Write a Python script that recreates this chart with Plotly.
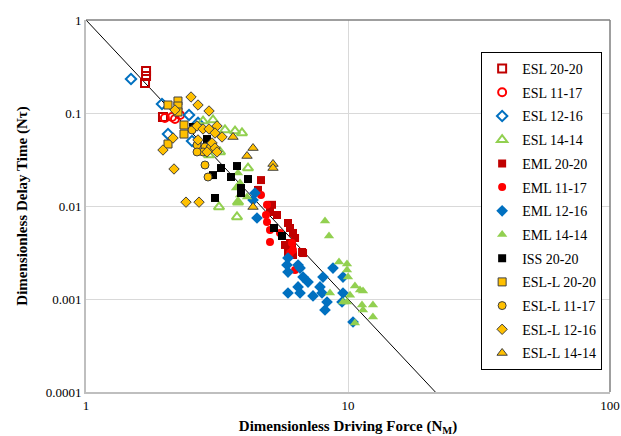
import plotly.graph_objects as go

# ---- data ----
esl_20_20_x = [1.695, 1.695, 1.68, 1.967]
esl_20_20_y = [0.283, 0.250, 0.210, 0.0906]

esl_11_17_x = [2.00, 2.13, 2.285, 2.186]
esl_11_17_y = [0.0884, 0.0906, 0.0952, 0.0862]

esl_12_16_x = [1.485, 1.95, 2.056, 2.473, 2.676, 2.539]
esl_12_16_y = [0.232, 0.125, 0.0594, 0.0952, 0.0781, 0.050]

esl_14_14_x = [2.797, 3.053, 3.392, 3.705, 3.939, 2.948, 3.247, 4.153, 3.218, 3.804, 3.770]
esl_14_14_y = [0.082, 0.0841, 0.0657, 0.064, 0.0611, 0.0353, 0.0381, 0.0256, 0.00976, 0.0110, 0.00762]

eml_20_20_x = [4.655, 4.534, 5.038, 5.358, 5.902, 6.006, 6.166, 6.279, 5.849, 6.006, 6.736,
               5.747, 6.112, 6.677, 5.902, 6.166, 5.128]
eml_20_20_y = [0.0190, 0.0149, 0.00862, 0.0080, 0.00657, 0.0058, 0.00513, 0.00453, 0.00381, 0.0040,
               0.00312, 0.00381, 0.00362, 0.0032, 0.0032, 0.00297, 0.0103]

eml_11_17_x = [4.655, 4.907, 4.864, 4.907, 5.038, 5.038, 5.501, 6.112, 6.166, 6.279, 6.006]
eml_11_17_y = [0.0131, 0.0103, 0.0080, 0.00673, 0.00552, 0.0041, 0.00513, 0.0040, 0.00336, 0.00205, 0.00312]

eml_12_16_x = [4.340, 4.494, 4.416, 5.902, 5.849, 6.448, 6.561, 5.902, 6.736, 7.038, 5.902, 6.561,
               7.353, 7.818, 8.027, 8.764, 9.570, 9.570, 8.316, 8.170, 10.45, 6.448, 7.957, 9.487]
eml_12_16_y = [0.0116, 0.00743, 0.0138, 0.00276, 0.00232, 0.00232, 0.00215, 0.00195, 0.00172, 0.00152,
               0.00116, 0.00116, 0.00108, 0.00135, 0.00172, 0.00215, 0.00172, 0.00116, 0.000928,
               0.000762, 0.000566, 0.00135, 0.00116, 0.000928]

eml_14_14_x = [3.804, 3.871, 3.871, 3.804, 4.117, 3.737,
               8.170, 8.462, 9.240, 9.913, 9.913, 10.0, 10.63, 11.11, 11.41, 8.536, 9.570, 9.913,
               11.31, 12.45, 11.41, 12.45, 10.63, 10.18]
eml_14_14_y = [0.0226, 0.0177, 0.0131, 0.0110, 0.0125, 0.0156,
               0.0069, 0.00476, 0.0025, 0.00238, 0.00205, 0.00172, 0.00138, 0.00125, 0.00122, 0.00116,
               0.000928, 0.000928, 0.000862, 0.000862, 0.000762, 0.00064, 0.000552, 0.0011]

iss_20_20_x = [2.561, 2.896, 3.276, 3.053, 3.770, 3.577, 4.153, 3.905, 3.905, 3.107, 5.219, 5.598]
iss_20_20_y = [0.0707, 0.0525, 0.0256, 0.0215, 0.0269, 0.0205, 0.0195, 0.0156, 0.0138, 0.0122, 0.0058, 0.00476]

esll_20_20_x = [2.056, 2.244, 2.244, 2.244, 2.366, 2.366, 2.056]
esll_20_20_y = [0.1219, 0.1346, 0.1189, 0.1025, 0.0743, 0.0594, 0.0464]

esll_11_17_x = [2.539, 2.653, 2.846, 2.797, 2.653, 2.846, 2.922, 2.974]
esll_11_17_y = [0.0657, 0.0453, 0.0431, 0.0381, 0.0381, 0.0276, 0.0205, 0.042]

esll_12_16_x = [2.517, 2.676, 2.948, 2.186, 2.148, 1.967, 2.167, 2.408, 2.700, 2.653, 2.797, 2.948,
                3.162, 3.107, 3.305, 2.676, 3.027, 3.107, 2.896, 3.162]
esll_12_16_y = [0.1486, 0.1219, 0.1051, 0.1077, 0.0538, 0.040, 0.025, 0.011, 0.011, 0.0725, 0.0673,
                0.0673, 0.0725, 0.0609, 0.0552, 0.0513, 0.0476, 0.042, 0.0381, 0.0381]

esll_14_14_x = [3.640, 4.340, 4.117, 5.173, 5.173, 4.340]
esll_14_14_y = [0.0552, 0.0420, 0.0345, 0.0283, 0.0256, 0.00976]

fit_x = [1.0, 21.544]
fit_y = [1.0, 0.0001]

x_ticks = [1, 10, 100]
x_tick_labels = ["1", "10", "100"]
y_ticks = [1, 0.1, 0.01, 0.001, 0.0001]
y_tick_labels = ["1", "0.1", "0.01", "0.001", "0.0001"]

DARKRED = "#C00000"
RED = "#FF0000"
BLUE = "#0070C0"
GREEN = "#92D050"
ORANGE = "#FFC000"

series = [
    ("ESL 20-20", esl_20_20_x, esl_20_20_y, "square-open", DARKRED, None, 8),
    ("ESL 11-17", esl_11_17_x, esl_11_17_y, "circle-open", RED, None, 8),
    ("ESL 12-16", esl_12_16_x, esl_12_16_y, "diamond-open", BLUE, None, 8),
    ("ESL 14-14", esl_14_14_x, esl_14_14_y, "triangle-up-open", GREEN, None, 9),
    ("EML 20-20", eml_20_20_x, eml_20_20_y, "square", DARKRED, None, 8),
    ("EML 11-17", eml_11_17_x, eml_11_17_y, "circle", RED, None, 8),
    ("EML 12-16", eml_12_16_x, eml_12_16_y, "diamond", BLUE, None, 9),
    ("EML 14-14", eml_14_14_x, eml_14_14_y, "triangle-up", GREEN, None, 9),
    ("ISS 20-20", iss_20_20_x, iss_20_20_y, "square", "#000000", None, 8),
    ("ESL-L 20-20", esll_20_20_x, esll_20_20_y, "square", ORANGE, "#404040", 8),
    ("ESL-L 11-17", esll_11_17_x, esll_11_17_y, "circle", ORANGE, "#404040", 8),
    ("ESL-L 12-16", esll_12_16_x, esll_12_16_y, "diamond", ORANGE, "#404040", 8),
    ("ESL-L 14-14", esll_14_14_x, esll_14_14_y, "triangle-up", ORANGE, "#404040", 9),
]

fig = go.Figure()

fig.add_trace(go.Scatter(x=fit_x, y=fit_y, mode="lines",
                         line=dict(color="#000000", width=1), showlegend=False,
                         hoverinfo="skip"))

for i, (name, xs, ys, sym, col, outline, size) in enumerate(series):
    if sym.endswith("-open"):
        marker = dict(symbol=sym, size=size, color=col, line=dict(color=col, width=2))
    elif outline:
        marker = dict(symbol=sym, size=size, color=col, line=dict(color=outline, width=1))
    else:
        marker = dict(symbol=sym, size=size, color=col, line=dict(width=0))
    fig.add_trace(go.Scatter(x=xs, y=ys, mode="markers", name=name, marker=marker,
                             legendgroup=f"g{i}"))

SERIF = "Liberation Serif, Times New Roman, serif"

fig.update_layout(
    width=621, height=436,
    margin=dict(l=86, r=11, t=20, b=44, autoexpand=False),
    paper_bgcolor="white", plot_bgcolor="white",
    font=dict(family=SERIF, size=13, color="#000000"),
    legend=dict(
        x=0.985, y=0.914, xanchor="right", yanchor="top",
        bgcolor="white", bordercolor="#000000", borderwidth=1,
        font=dict(family=SERIF, size=14, color="#000000"),
        tracegroupgap=2.5, itemwidth=30,
    ),
    xaxis=dict(
        type="log", range=[0, 2],
        tickvals=x_ticks, ticktext=x_tick_labels,
        showgrid=True, gridcolor="#D9D9D9", gridwidth=1,
        showline=True, linecolor="#BFBFBF", linewidth=2,
        ticks="", zeroline=False, automargin=False,
        tickfont=dict(family=SERIF, size=13),
        title=dict(text="<b>Dimensionless Driving Force (N<sub>M</sub>)</b>",
                   font=dict(family=SERIF, size=15), standoff=22),
    ),
    yaxis=dict(
        type="log", range=[-4, 0],
        tickvals=y_ticks, ticktext=y_tick_labels,
        showgrid=True, gridcolor="#D9D9D9", gridwidth=1,
        showline=True, linecolor="#BFBFBF", linewidth=2,
        ticks="", zeroline=False, automargin=False,
        tickfont=dict(family=SERIF, size=13),
        title=dict(text="<b>Dimensionless Delay Time (Nτ)</b>",
                   font=dict(family=SERIF, size=15), standoff=14),
    ),
    shapes=[
        dict(type="line", xref="paper", yref="paper", x0=1, x1=1, y0=0, y1=1,
             line=dict(color="#7F7F7F", width=1.5)),
        dict(type="line", xref="paper", yref="paper", x0=0, x1=1, y0=1, y1=1,
             line=dict(color="#7F7F7F", width=1.5)),
    ],
)

fig.write_html(
    "out.html",
    config={"displayModeBar": False},
    post_script="document.body.style.margin='0';document.body.style.overflow='hidden';",
)
